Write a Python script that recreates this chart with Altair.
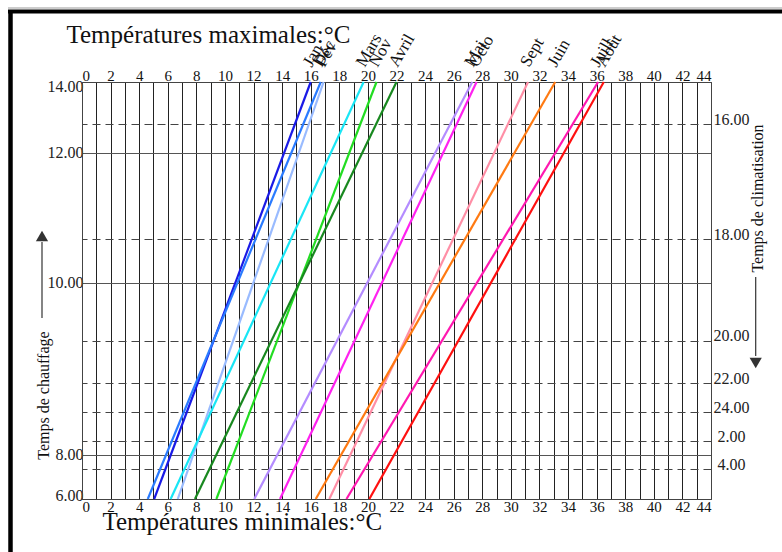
import altair as alt
import pandas as pd

# ---- data ----
months = ["Jan", "Déc", "Fév", "Mars", "Nov", "Avril", "Mai", "Octo", "Sept", "Juin", "Juill", "Août"]
t_min = [5.05, 4.6, 6.7, 6.2, 9.4, 7.9, 12.05, 13.85, 17.3, 16.35, 18.5, 20.1]
t_max = [16.0, 16.7, 16.9, 19.7, 20.6, 22.0, 27.3, 27.6, 31.2, 33.1, 36.1, 36.5]
colors = ["#1a1ae6", "#2a7bff", "#99bbff", "#19e6f5", "#22dd22", "#18881f",
          "#b48cff", "#ff22f0", "#ff8fa6", "#ff7a12", "#ff18b0", "#ff1010"]

# heating-time axis (left): relative height positions and labels
left_pos = [0.0, 0.106, 0.518, 0.830, 1.0]
left_lab = ["6.00", "8.00", "10.00", "12.00", "14.00"]
# cooling-time axis (right)
right_pos = [0.899, 0.623, 0.380, 0.277, 0.208, 0.139, 0.071]
right_lab = ["16.00", "18.00", "20.00", "22.00", "24.00", "2.00", "4.00"]

x_ticks = list(range(0, 45))

FONT = "Liberation Serif"

rows = []
for m, a, b in zip(months, t_min, t_max):
    rows.append({"month": m, "t": a, "pos": 0.0})
    rows.append({"month": m, "t": b, "pos": 1.0})
df_lines = pd.DataFrame(rows)
df_labels = pd.DataFrame({"month": months, "tmax": t_max, "top": [1.0] * len(months)})


def lookup_expr(vals, labs):
    parts = [f"datum.value == {v} ? '{l}'" for v, l in zip(vals, labs)]
    return " : ".join(parts) + " : ''"


xscale = alt.Scale(domain=[0, 44], nice=False, zero=False)
yscale = alt.Scale(domain=[0, 1], nice=False, zero=False)

bottom_axis = alt.Axis(
    orient="bottom", values=x_ticks, labelExpr="datum.value % 2 == 0 ? datum.value : ''",
    grid=True, gridColor="#222", gridWidth=1, gridOpacity=1,
    ticks=False, tickSize=0, domainColor="#444", labelPadding=0, labelFont=FONT,
    labelFontSize=15, labelColor="#111", labelBaseline="top", labelOverlap=False,
    title="Températures minimales:°C", titleFont=FONT, titleFontSize=25,
    titleFontWeight="normal", titleColor="#111", titleX=20, titleY=30,
    titleAlign="left", titleBaseline="alphabetic", titleAnchor="start",
)
top_axis = alt.Axis(
    orient="top", values=list(range(0, 45, 2)), grid=False, ticks=False, tickSize=0,
    domainColor="#444", labelPadding=2, labelFont=FONT, labelFontSize=15, labelColor="#111",
    labelBaseline="alphabetic", labelOverlap=False,
    title="Températures maximales:°C", titleFont=FONT, titleFontSize=25,
    titleFontWeight="normal", titleColor="#111", titleX=-16, titleY=-40,
    titleAlign="left", titleBaseline="alphabetic", titleAnchor="start",
)
left_axis = alt.Axis(
    orient="left", values=left_pos, labelExpr=lookup_expr(left_pos, left_lab),
    grid=True, gridColor="#555", gridWidth=1.2, gridOpacity=1,
    ticks=False, tickSize=0, domainColor="#444", labelPadding=-1, labelFont=FONT,
    labelFontSize=16, labelColor="#222", labelFlush=True, labelFlushOffset=4,
    labelOverlap=False,
    title="Temps de chauffage", titleFont=FONT, titleFontSize=16, titleFontWeight="normal",
    titleColor="#111", titleAngle=270, titleX=-39, titleY=313, titleAlign="center",
    titleBaseline="middle",
)
right_axis = alt.Axis(
    orient="right", values=right_pos, labelExpr=lookup_expr(right_pos, right_lab),
    grid=True, gridColor="#444", gridWidth=1.2, gridOpacity=1, gridDash=[8, 5],
    ticks=False, tickSize=0, domainColor="#444", labelPadding=20, labelAlign="center",
    labelBaseline="alphabetic", labelFont=FONT, labelFontSize=16, labelColor="#222",
    labelOverlap=False,
    title="Temps de climatisation", titleFont=FONT, titleFontSize=16, titleFontWeight="normal",
    titleColor="#111", titleAngle=270, titleX=46, titleY=116, titleAlign="center",
    titleBaseline="middle",
)

lines = alt.Chart(df_lines).mark_line(strokeWidth=2.2).encode(
    x=alt.X("t:Q", scale=xscale, axis=bottom_axis),
    y=alt.Y("pos:Q", scale=yscale, axis=left_axis),
    color=alt.Color("month:N", scale=alt.Scale(domain=months, range=colors), legend=None),
    detail="month:N",
)

# dx/dy are applied in the rotated frame: these give about (+1, -14) px on screen
labels = alt.Chart(df_labels).mark_text(
    angle=300, align="left", baseline="alphabetic", dx=12.6, dy=-6.1,
    font=FONT, fontSize=17, color="#111",
).encode(
    x=alt.X("tmax:Q", scale=xscale, axis=top_axis),
    y=alt.Y("top:Q", scale=yscale, axis=right_axis),
    text="month:N",
)

one = pd.DataFrame({"k": [0]})
# page frame
frame_top = alt.Chart(one).mark_rule(color="#000", strokeWidth=4).encode(
    x=alt.value(-74), x2=alt.value(700), y=alt.value(-70.5))
frame_top2 = alt.Chart(one).mark_rule(color="#999", strokeWidth=1).encode(
    x=alt.value(-74), x2=alt.value(700), y=alt.value(-74))
frame_left = alt.Chart(one).mark_rule(color="#000", strokeWidth=4.5).encode(
    x=alt.value(-71.5), y=alt.value(-72), y2=alt.value(470))
# arrows
arrow_l = alt.Chart(one).mark_rule(color="#333", strokeWidth=1.2).encode(
    x=alt.value(-40), y=alt.value(160), y2=alt.value(236))
head_l = alt.Chart(one).mark_point(shape="triangle-up", filled=True, color="#333",
                                   opacity=1, size=150).encode(
    x=alt.value(-40), y=alt.value(154))
arrow_r = alt.Chart(one).mark_rule(color="#333", strokeWidth=1.2).encode(
    x=alt.value(673.7), y=alt.value(195), y2=alt.value(274))
head_r = alt.Chart(one).mark_point(shape="triangle-down", filled=True, color="#333",
                                   opacity=1, size=150).encode(
    x=alt.value(673.7), y=alt.value(281))

chart = alt.layer(
    lines, labels, frame_top, frame_top2, frame_left, arrow_l, head_l, arrow_r, head_r
).resolve_axis(x="independent", y="independent").properties(
    width=629, height=417,
    autosize=alt.AutoSizeParams(type="none"),
    padding={"left": 82, "top": 82, "right": 71, "bottom": 53},
    background="white",
).configure_view(strokeWidth=0)

chart.save("out.html", embed_options={"renderer": "svg", "actions": False})
